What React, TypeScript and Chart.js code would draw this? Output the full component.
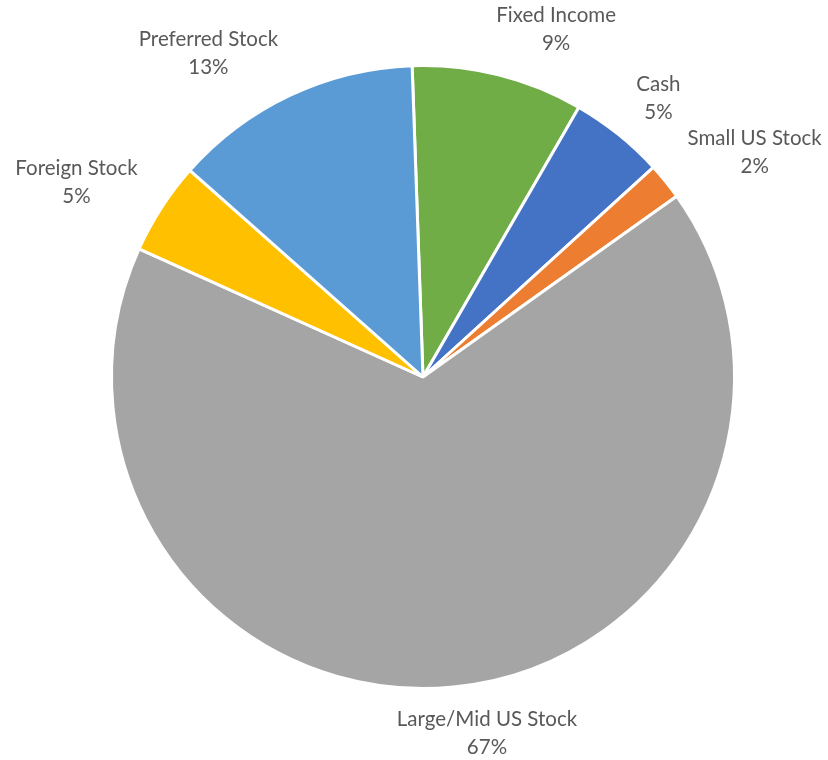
import React, { useEffect, useRef } from "react";
import { Chart, registerables } from "chart.js";

Chart.register(...registerables);

const categories = [
  "Fixed Income",
  "Cash",
  "Small US Stock",
  "Large/Mid US Stock",
  "Foreign Stock",
  "Preferred Stock",
];
const values = [8.9, 4.9, 1.9, 66.6, 4.8, 12.9];
const sliceColors = ["#70AD47", "#4472C4", "#ED7D31", "#A5A5A5", "#FFC000", "#5B9BD5"];

const LABEL_FONT = "20.5px Lato";
const LINE_H = 28;

const outsideLabels = {
  id: "outsideLabels",
  afterDatasetsDraw(chart: any) {
    const ctx = chart.ctx;
    const meta = chart.getDatasetMeta(0);
    const data = chart.data.datasets[0].data as number[];
    const total = data.reduce((a: number, b: number) => a + b, 0);
    ctx.save();
    ctx.font = LABEL_FONT;
    ctx.fillStyle = "#595959";
    ctx.textAlign = "center";
    ctx.textBaseline = "middle";
    meta.data.forEach((arc: any, i: number) => {
      const { x, y, startAngle, endAngle, outerRadius } = arc.getProps(
        ["x", "y", "startAngle", "endAngle", "outerRadius"],
        true
      );
      const mid = (startAngle + endAngle) / 2;
      const ux = Math.cos(mid);
      const uy = Math.sin(mid);
      const l1 = String(chart.data.labels[i]);
      const l2 = Math.round((data[i] / total) * 100) + "%";
      const w = Math.max(ctx.measureText(l1).width, ctx.measureText(l2).width);
      const r = outerRadius - 1.5;
      const cx = x + r * ux + (w / 2) * Math.max(-1, Math.min(1, 3.5 * ux)) + 30 * ux;
      const cy = y + r * uy + 48 * uy;
      ctx.fillText(l1, cx, cy - LINE_H / 2);
      ctx.fillText(l2, cx, cy + LINE_H / 2);
    });
    ctx.restore();
  },
};

export default function App() {
  const canvasRef = useRef<HTMLCanvasElement | null>(null);

  useEffect(() => {
    if (!canvasRef.current) return;
    const chart = new Chart(canvasRef.current, {
      type: "pie",
      data: {
        labels: categories,
        datasets: [
          {
            data: values,
            backgroundColor: sliceColors,
            borderColor: "#ffffff",
            borderWidth: 3,
          },
        ],
      },
      options: {
        animation: false,
        responsive: true,
        maintainAspectRatio: false,
        rotation: -2,
        layout: { padding: { left: 110, right: 92, top: 64, bottom: 70 } },
        plugins: {
          legend: { display: false },
          tooltip: { enabled: false },
        },
      },
      plugins: [outsideLabels],
    });
    return () => chart.destroy();
  }, []);

  return (
    <div
      style={{
        position: "absolute",
        left: 0,
        top: 0,
        width: 828,
        height: 760,
        background: "#ffffff",
      }}
    >
      <canvas ref={canvasRef} />
    </div>
  );
}
